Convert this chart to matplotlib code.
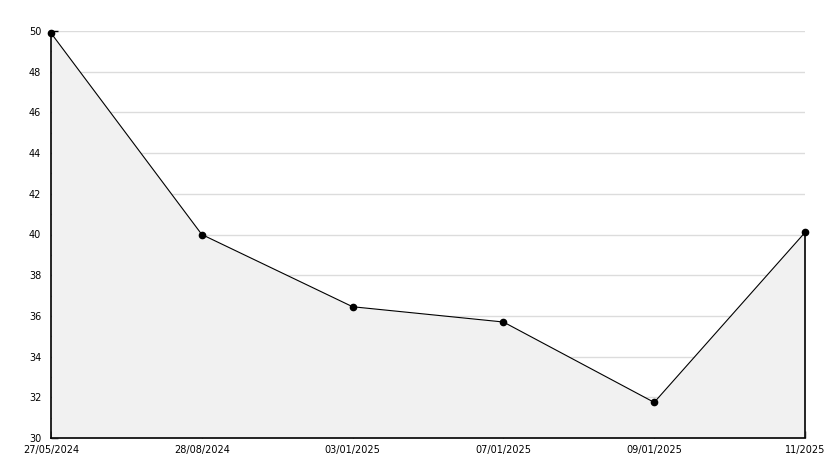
import numpy as np
import matplotlib.pyplot as plt

# data
labels = ['27/05/2024', '28/08/2024', '03/01/2025', '07/01/2025', '09/01/2025', '11/2025']
values = [49.9, 40.0, 36.45, 35.7, 31.75, 40.1]

x = np.arange(len(labels))

fig = plt.figure(figsize=(8.34, 4.68), dpi=100)
ax = fig.add_axes([51/834, 30/468, 754/834, 407/468])

ax.set_xlim(0, len(labels) - 1)
ax.set_ylim(30, 50)

# grid behind the fill
ax.set_yticks(np.arange(30, 51, 2))
ax.set_yticks(np.arange(31, 50, 2), minor=True)
ax.yaxis.grid(True, which='major', color='#dcdcdc', linewidth=1, zorder=0)
ax.set_axisbelow(True)

ax.fill_between(x, 30, values, color='#f1f1f1', zorder=1, linewidth=0)
ax.vlines(x[-1], 30, values[-1], color='black', linewidth=1.2, zorder=2, clip_on=False)
ax.plot(x, values, color='black', linewidth=0.8, marker='o', markersize=4.5,
        zorder=4, clip_on=False)

ax.set_xticks(x)
ax.set_xticklabels(labels)

for s in ['top', 'right']:
    ax.spines[s].set_visible(False)
for s in ['left', 'bottom']:
    ax.spines[s].set_linewidth(1.2)

ax.tick_params(axis='both', which='both', direction='in', length=5, width=1,
               labelsize=7, colors='black')
ax.tick_params(axis='x', pad=5)
ax.tick_params(axis='y', pad=7)

plt.savefig('out.png', dpi=100)
